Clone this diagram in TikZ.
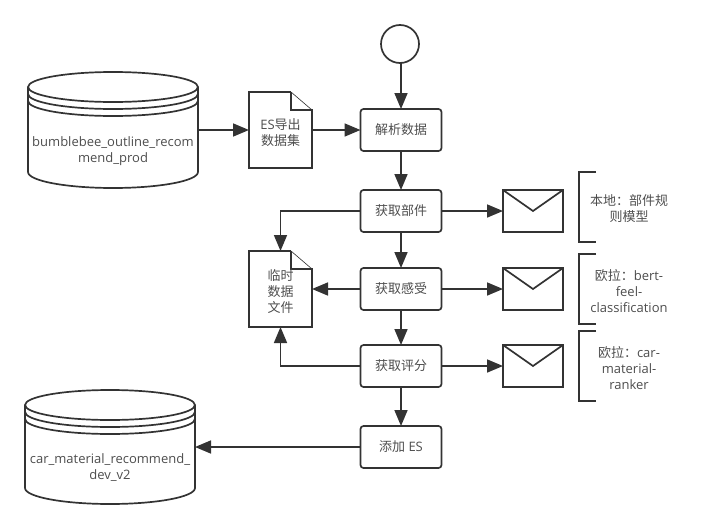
\documentclass[tikz,border=0pt]{standalone}
\usepackage{fontspec}
\setmainfont{Open Sans}
\newfontfamily\cjk{Noto Sans CJK SC}
\usetikzlibrary{arrows.meta}
\definecolor{ink}{HTML}{333333}
\definecolor{txt}{HTML}{4D4D4D}
\tikzset{
  frame/.style={draw=ink,line width=1.7pt},
  flow/.style={-{Triangle[length=16pt,width=13pt]},draw=ink,line width=1.7pt},
  stepbox/.style={frame,rounded corners=3pt,minimum width=81pt,minimum height=42pt,inner sep=0pt,outer sep=0pt},
  mailbox/.style={frame,minimum width=60pt,minimum height=42pt,inner sep=0pt,outer sep=0pt},
  holder/.style={minimum width=#1,inner sep=0pt,outer sep=0pt},
  label/.style={align=center,text=txt,font=\fontsize{13}{16}\selectfont,inner sep=0pt},
}
\newcommand{\datastore}[1]{\draw[frame] ([yshift=-15pt]#1.north west) arc[start angle=180,end angle=0,x radius=85pt,y radius=15pt] -- ([yshift=16pt]#1.south east) arc[start angle=0,end angle=-180,x radius=85pt,y radius=16pt] -- cycle;
\foreach \dy in {15,22,29} \draw[frame] ([yshift=-\dy pt]#1.north west) arc[start angle=180,end angle=360,x radius=85pt,y radius=15pt];}
\newcommand{\docfile}[1]{\draw[frame,line join=miter] ([xshift=-21pt]#1.north east) -- (#1.north west) -- (#1.south west) -- (#1.south east) -- ([yshift=-18pt]#1.north east) -- ([xshift=-21pt,yshift=-18pt]#1.north east) -- ([xshift=-21pt]#1.north east);
\draw[draw=ink,line width=.6pt] ([xshift=-21pt]#1.north east) -- ([yshift=-18pt]#1.north east);}
\newcommand{\flap}[1]{\draw[frame] (#1.north west) -- (#1.center) -- (#1.north east);}
\newcommand{\sidenote}[1]{\draw[frame] ([xshift=17pt]#1.north west) -- (#1.north west) -- (#1.south west) -- ([xshift=17pt]#1.south west);}
\begin{document}
\begin{tikzpicture}[x=1pt,y=-1pt,>=Stealth]
\useasboundingbox (0,0) rectangle (704,530);
\node[frame,circle,minimum size=38pt,inner sep=0pt,outer sep=0pt] (start) at (400,44) {};
\node[stepbox,label] (parse) at (401,130) {\cjk 解析数据};
\node[stepbox,label] (part) at (401,211) {\cjk 获取部件};
\node[stepbox,label] (feel) at (401,289) {\cjk 获取感受};
\node[stepbox,label] (score) at (401,366) {\cjk 获取评分};
\node[stepbox,label] (addes) at (401,447) {{\cjk 添加} ES};
\node[holder=170pt,minimum height=116pt] (source) at (113,130) {};
\node[holder=170pt,minimum height=114pt] (target) at (110,447) {};
\node[holder=63pt,minimum height=76pt] (export) at (280.5,130) {};
\node[holder=63pt,minimum height=76pt] (temp) at (280.5,289) {};
\node[mailbox] (mailpart) at (533,211) {};
\node[mailbox] (mailfeel) at (533,289) {};
\node[mailbox] (mailscore) at (533,366) {};
\node[holder=17pt,minimum height=70pt] (notepart) at (587.5,207) {};
\node[holder=17pt,minimum height=70pt] (notefeel) at (587.5,289) {};
\node[holder=17pt,minimum height=70pt] (notescore) at (587.5,366) {};
\datastore{source}
\datastore{target}
\docfile{export}
\docfile{temp}
\flap{mailpart}
\flap{mailfeel}
\flap{mailscore}
\sidenote{notepart}
\sidenote{notefeel}
\sidenote{notescore}
\node[label] (sourcetext) at (113,151) {bumblebee\_outline\_recom\\mend\_prod};
\node[label] (targettext) at (110,468) {car\_material\_recommend\_\\dev\_v2};
\node[label] (exporttext) at (280.5,133) {ES{\cjk 导出}\\{\cjk 数据集}};
\node[label] (temptext) at (280.5,292) {\cjk 临时\\\cjk 数据\\\cjk 文件};
\node[label] (parttext) at (629,209) {{\cjk 本地：部件规}\\{\cjk 则模型}};
\node[label] (feeltext) at (629,291) {{\cjk 欧拉：}bert-\\feel-\\classification};
\node[label] (scoretext) at (629,368) {{\cjk 欧拉：}car-\\material-\\ranker};
\draw[flow] (start.south -| parse) -- (parse);
\draw[flow] (parse) -- (part);
\draw[flow] (part) -- (feel);
\draw[flow] (feel) -- (score);
\draw[flow] (score) -- (addes);
\draw[flow] (source) -- (export);
\draw[flow] (export) -- (parse);
\draw[flow] (part) -- (mailpart);
\draw[flow] (feel) -- (mailfeel);
\draw[flow] (score) -- (mailscore);
\draw[flow] (part) -| (temp);
\draw[flow] (feel) -- (temp);
\draw[flow] (score) -| (temp);
\draw[flow] (addes) -- (target.east |- addes);
\end{tikzpicture}
\end{document}
